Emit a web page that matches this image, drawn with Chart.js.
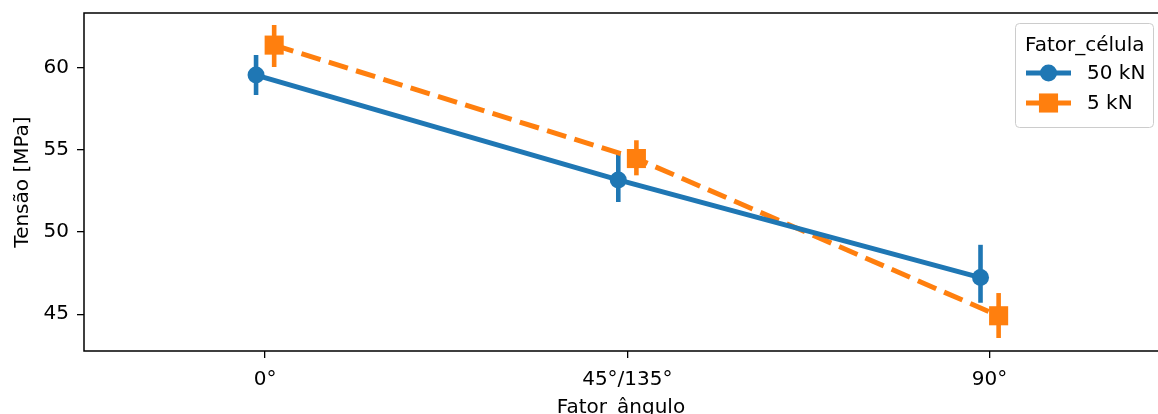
<!DOCTYPE html>
<html lang="pt">
<head>
<meta charset="utf-8">
<title>Tensão por ângulo</title>
<script src="https://cdn.jsdelivr.net/npm/chart.js"></script>
<style>
    html, body { margin: 0; padding: 0; overflow: hidden; background: #fff; }
    #js--chart { display: block; }
</style>
</head>
<body>
<canvas id="js--chart" width="1158" height="414"></canvas>
<script>
// categorias do eixo x
const categorias = ["0°", "45°/135°", "90°"];
const yTicks = [45, 50, 55, 60];

// 50 kN: média e intervalo
const media50 = [59.53, 53.16, 47.23];
const min50 = [58.32, 51.82, 45.70];
const max50 = [60.75, 54.86, 49.22];

// 5 kN: média e intervalo
const media5 = [61.35, 54.46, 44.91];
const min5 = [60.02, 53.44, 43.56];
const max5 = [62.57, 55.57, 46.29];

const azul = "#1f77b4";
const laranja = "#ff7f0e";
const fonte = { family: "DejaVu Sans", size: 20 };
const dodge = 0.025;
const lw = 5;

Chart.defaults.font.family = fonte.family;
Chart.defaults.font.size = fonte.size;
Chart.defaults.color = "#000";

function pontos(medias, desloc){
    return medias.map((v, i) => ({ x: i + desloc, y: v }));
}

const series = [
    { label: "50 kN", cor: azul, media: media50, lo: min50, hi: max50, desloc: -dodge, marcador: "circle", raio: 8.5, dash: [] },
    { label: "5 kN", cor: laranja, media: media5, lo: min5, hi: max5, desloc: dodge, marcador: "rect", raio: 13.5, dash: [20, 8.6] },
];

// barras de erro verticais
const barrasErro = {
    id: "barrasErro",
    beforeDatasetsDraw(chart){
        const ctx = chart.ctx;
        const xs = chart.scales.x, ys = chart.scales.y;
        ctx.save();
        ctx.lineWidth = 4.6;
        ctx.lineCap = "butt";
        series.forEach(s => {
            ctx.strokeStyle = s.cor;
            s.media.forEach((m, i) => {
                const px = xs.getPixelForValue(i + s.desloc);
                ctx.beginPath();
                ctx.moveTo(px, ys.getPixelForValue(s.lo[i]));
                ctx.lineTo(px, ys.getPixelForValue(s.hi[i]));
                ctx.stroke();
            });
        });
        ctx.restore();
    }
};

// eixos (esquerda, topo, base) e legenda
const moldura = {
    id: "moldura",
    afterDraw(chart){
        const ctx = chart.ctx;
        const a = chart.chartArea;
        ctx.save();
        ctx.strokeStyle = "#000";
        ctx.lineWidth = 1.5;
        ctx.beginPath();
        ctx.moveTo(a.right + 2, a.top);
        ctx.lineTo(a.left, a.top);
        ctx.lineTo(a.left, a.bottom);
        ctx.lineTo(a.right + 2, a.bottom);
        ctx.stroke();

        // caixa da legenda
        const bx = 1015, by = 23, bw = 138, bh = 104, r = 4;
        ctx.beginPath();
        ctx.roundRect(bx + 0.5, by + 0.5, bw, bh, r);
        ctx.fillStyle = "rgba(255,255,255,0.8)";
        ctx.fill();
        ctx.strokeStyle = "#cccccc";
        ctx.lineWidth = 1;
        ctx.stroke();

        ctx.fillStyle = "#000";
        ctx.font = "20px 'DejaVu Sans'";
        ctx.textBaseline = "middle";
        ctx.textAlign = "left";
        ctx.fillText("Fator_célula", 1025, 46);

        series.forEach((s, k) => {
            const y = 73 + k * 30;
            ctx.strokeStyle = s.cor;
            ctx.fillStyle = s.cor;
            ctx.lineWidth = lw;
            ctx.setLineDash(s.dash);
            ctx.beginPath();
            ctx.moveTo(1026, y);
            ctx.lineTo(1071, y);
            ctx.stroke();
            ctx.setLineDash([]);
            if (s.marcador === "circle") {
                ctx.beginPath();
                ctx.arc(1048.5, y, s.raio, 0, Math.PI * 2);
                ctx.fill();
            } else {
                const h = s.raio * Math.SQRT1_2;
                ctx.fillRect(1048.5 - h, y - h, 2 * h, 2 * h);
            }
            ctx.fillStyle = "#000";
            ctx.fillText(s.label, 1087, y + 1);
        });
        ctx.restore();
    }
};

const datasets = series.map((s, k) => ({
    label: s.label,
    data: pontos(s.media, s.desloc),
    borderColor: s.cor,
    backgroundColor: s.cor,
    borderWidth: lw,
    borderDash: s.dash,
    pointStyle: s.marcador,
    pointRadius: s.raio,
    pointHoverRadius: s.raio,
    pointBorderWidth: 0,
    tension: 0,
    order: k,
}));

new Chart(document.getElementById("js--chart"), {
    type: "line",
    data: { datasets: datasets },
    plugins: [barrasErro, moldura],
    options: {
        responsive: false,
        animation: false,
        devicePixelRatio: 1,
        layout: { autoPadding: false, padding: { top: 13, left: 0, right: 0, bottom: 0 } },
        plugins: {
            legend: { display: false },
            tooltip: { enabled: false },
        },
        scales: {
            x: {
                type: "linear",
                min: -0.5,
                max: 2.465,
                afterBuildTicks: s => { s.ticks = categorias.map((c, i) => ({ value: i })); },
                afterFit: s => { s.height = 63; s.paddingLeft = 0; s.paddingRight = 0; },
                ticks: {
                    padding: 9.4,
                    color: "#000",
                    font: fonte,
                    maxRotation: 0,
                    callback: v => categorias[v],
                },
                grid: { display: true, drawOnChartArea: false, drawTicks: true, tickLength: 7, color: "#000", lineWidth: 1.3 },
                border: { display: false },
                title: { display: true, text: "Fator_ângulo", color: "#000", font: fonte, padding: { top: 0, bottom: -5.5 } },
            },
            y: {
                min: 42.77,
                max: 63.30,
                afterBuildTicks: s => { s.ticks = yTicks.map(v => ({ value: v })); },
                afterFit: s => { s.width = 84; s.paddingTop = 0; s.paddingBottom = 0; },
                ticks: { padding: 8, color: "#000", font: fonte },
                grid: { display: true, drawOnChartArea: false, drawTicks: true, tickLength: 7, color: "#000", lineWidth: 1.3 },
                border: { display: false },
                title: { display: true, text: "Tensão [MPa]", color: "#000", font: fonte, padding: { top: 11, bottom: 0 } },
            },
        },
    },
});
</script>
</body>
</html>
